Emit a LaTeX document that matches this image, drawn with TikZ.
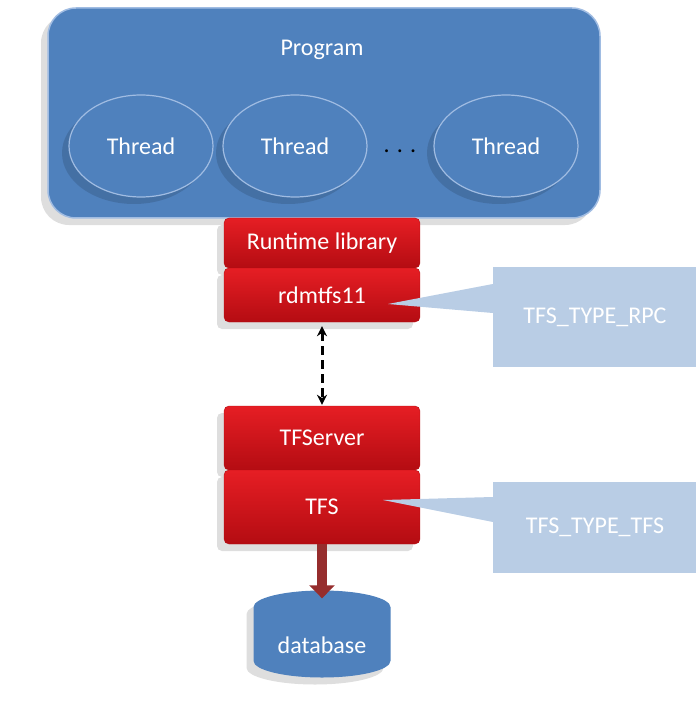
\documentclass[tikz,border=0pt]{standalone}
\usepackage{fontspec}
\setmainfont{Carlito}
\usetikzlibrary{arrows.meta,shapes.geometric,shadows}
\definecolor{progblue}{RGB}{79,129,189}
\definecolor{rimblue}{RGB}{160,188,226}
\definecolor{libred}{RGB}{230,30,36}
\definecolor{libdark}{RGB}{180,12,18}
\definecolor{notefill}{RGB}{185,205,229}
\definecolor{pipered}{RGB}{150,45,45}
\tikzset{
  bigtext/.style={text=white,font=\fontsize{24}{28}\selectfont},
  softshadow/.style={drop shadow={shadow xshift=-7pt,shadow yshift=-7pt,fill=black,opacity=.13}},
  thread/.style={ellipse,fill=progblue,draw=rimblue,line width=1.2pt,
    minimum width=144pt,minimum height=102pt,bigtext,softshadow},
  layer/.style={rectangle,rounded corners=5pt,top color=libred,bottom color=libdark,
    draw=libdark,minimum width=196pt,bigtext},
  note/.style={rectangle,fill=notefill,minimum width=204pt,bigtext},
}
\begin{document}
\begin{tikzpicture}[x=1pt,y=-1pt]
            \useasboundingbox (0,0) rectangle (695,719);
            % program with its threads
            \node[rectangle,rounded corners=28pt,fill=progblue,draw=rimblue,line width=1.5pt,
              minimum width=552pt,minimum height=210pt,softshadow] (prog) at (324,113) {};
            \node[bigtext] (progname) at (322,50) {Program};
            \node[thread] (t1) at (141,146) {Thread};
            \node[thread] (t2) at (295,146) {Thread};
            \node[thread] (t3) at (506,146) {Thread};
            \node[text=black,font=\fontsize{24}{28}\selectfont] (dots) at (400,151) {. . .};
            % client side
            \node[layer,minimum height=50pt,softshadow] (lib) at (322,243) {Runtime library};
            \node[layer,minimum height=54pt,softshadow] (rdm) at (322,295) {rdmtfs11};
            % server side
            \node[layer,minimum height=64pt,softshadow] (srv) at (322,438) {TFServer};
            \node[layer,minimum height=74pt,softshadow] (tfs) at (322,507) {TFS};
            \node[cylinder,shape border rotate=90,aspect=.35,fill=progblue,
              minimum width=137pt,minimum height=87pt,bigtext,softshadow] (db) at (322,645) {database};
            \coordinate (dbtop) at ([yshift=-8pt]db.north);
            % notes
            \node[note,minimum height=100pt] (rpc) at (595,317) {TFS\_TYPE\_RPC};
            \coordinate (rpctip) at ([xshift=66pt,yshift=-9pt]rdm.center);
            \fill[notefill] (rpctip) -- ([yshift=33pt]rpc.west) -- ([yshift=4pt]rpc.west) -- cycle;
            \node[note,minimum height=91pt] (tfsnote) at (595,527.5) {TFS\_TYPE\_TFS};
            \coordinate (tfstip) at ([xshift=61pt,yshift=7pt]tfs.center);
            \fill[notefill] (tfstip) -- ([yshift=30.5pt]tfsnote.west) -- ([yshift=5.5pt]tfsnote.west) -- cycle;
            % links
            \draw[dash pattern=on 9pt off 5pt,line width=3pt,{Stealth[length=10pt,width=10pt]}-{Stealth[length=10pt,width=10pt]},shorten <=4pt,shorten >=1pt] (rdm.south) -- (srv.north);
            \draw[pipered,line width=10pt,-{Triangle[width=25pt,length=13pt]}] (tfs.south) -- (dbtop);
        \end{tikzpicture}
\end{document}
